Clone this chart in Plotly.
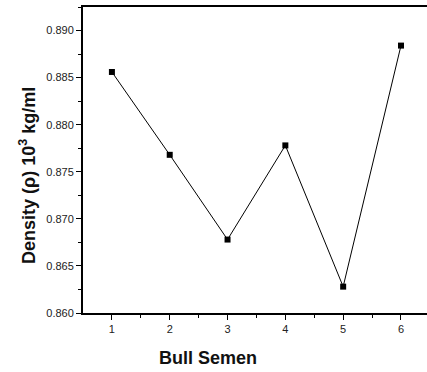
import plotly.graph_objects as go

samples = [1, 2, 3, 4, 5, 6]
density = [0.8856, 0.8768, 0.8678, 0.8778, 0.8628, 0.8884]
y_ticks = [0.860, 0.865, 0.870, 0.875, 0.880, 0.885, 0.890]
y_tick_labels = ["0.860", "0.865", "0.870", "0.875", "0.880", "0.885", "0.890"]
x_title = "Bull Semen"
y_title = "Density (ρ) 10<sup>3</sup> kg/ml"

fig = go.Figure()
fig.add_trace(go.Scatter(
    x=samples, y=density, mode="lines+markers",
    line=dict(color="black", width=1),
    marker=dict(symbol="square", size=6, color="black"),
    showlegend=False,
))

tick_font = dict(family="Liberation Sans, Arial, sans-serif", size=11, color="#222")

fig.update_xaxes(
    range=[0.5, 6.45], tickvals=samples, ticktext=[str(s) for s in samples],
    showline=True, linecolor="black", linewidth=2, mirror=True,
    ticks="outside", ticklen=5, tickwidth=1, tickcolor="black",
    minor=dict(tickvals=[1.5, 2.5, 3.5, 4.5, 5.5], ticks="outside", ticklen=3, tickcolor="black"),
    showgrid=False, zeroline=False, tickfont=tick_font,
)
fig.update_yaxes(
    range=[0.860, 0.8925], tickvals=y_ticks, ticktext=y_tick_labels,
    showline=True, linecolor="black", linewidth=2, mirror=False,
    ticks="outside", ticklen=5, tickwidth=1, tickcolor="black",
    minor=dict(tickvals=[0.8625, 0.8675, 0.8725, 0.8775, 0.8825, 0.8875, 0.8925], ticks="outside", ticklen=3, tickcolor="black"),
    showgrid=False, zeroline=False, tickfont=tick_font,
)

fig.add_annotation(
    text=x_title, xref="paper", yref="paper", x=(207.5 - 83) / 344, y=-(358 - 313) / 306,
    showarrow=False, font=dict(family="Liberation Sans, Arial, sans-serif", size=18, color="#111", weight="bold"),
    xanchor="center", yanchor="middle",
)
fig.add_annotation(
    text=y_title, xref="paper", yref="paper", x=-(83 - 27) / 344, y=(313 - 175) / 306,
    showarrow=False, textangle=-90,
    font=dict(family="Liberation Sans, Arial, sans-serif", size=18, color="#111", weight="bold"),
    xanchor="center", yanchor="middle",
)

fig.update_layout(
    width=427, height=372,
    margin=dict(l=83, r=0, t=7, b=59),
    plot_bgcolor="white", paper_bgcolor="white",
)

fig.write_html("out.html")
